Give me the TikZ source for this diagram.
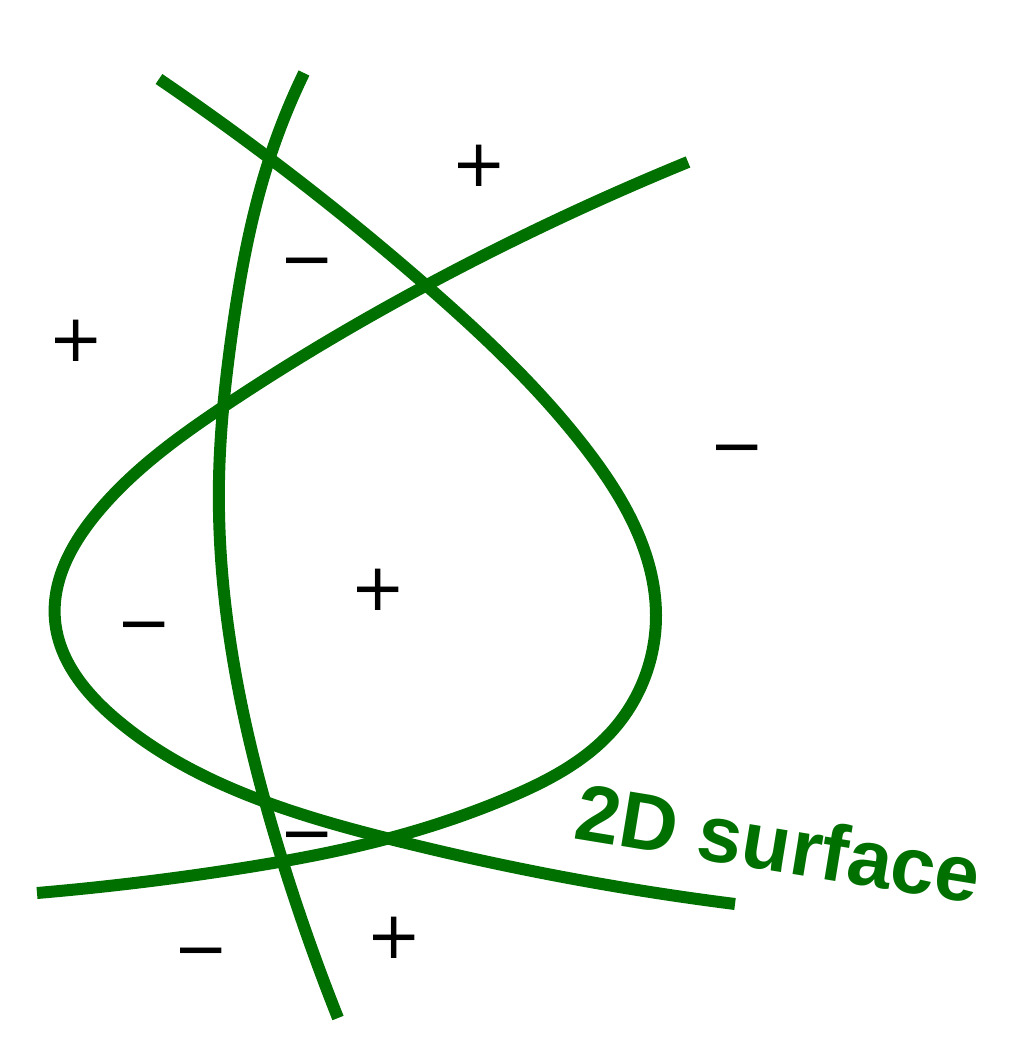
\documentclass[tikz,border=0pt]{standalone}
\usepackage{fontspec}
\setmainfont{Liberation Sans}
\newfontfamily\signfont{DejaVu Sans}
\usetikzlibrary{hobby}
\definecolor{surfgreen}{RGB}{0,112,0}
\begin{document}
\begin{tikzpicture}[x={(1pt,0pt)},y={(0pt,-1pt)},
  curve/.style={draw=surfgreen,line width=12pt,line cap=butt,use Hobby shortcut},
  sign/.style={anchor=base,inner sep=0pt,font=\signfont\fontsize{66}{70}\selectfont,text=black},
  label/.style={anchor=base west,inner sep=0pt,text=surfgreen,font=\bfseries\fontsize{80}{96}\selectfont,rotate=-9.3}]
\useasboundingbox (0,0) rectangle (1025,1039);
% curve A
\draw[curve] (159,79) .. (428,287) .. (587,450) .. (656,615) .. (613,730) .. (510,797) .. (390,838) .. (230,870) .. (37,893);
% curve B
\draw[curve] (688,162) .. (427,285) .. (223,407) .. (97,513) .. (55,620) .. (117,720) .. (263,801) .. (390,839) .. (735,904);
% vertical curve
\draw[curve] (304,73) .. (270,157) .. (231,340) .. (219,480) .. (238,687) .. (280,853) .. (338,1018);
% signs
\node[sign] (p1) at (479,163+23) {+};
\node[sign] (m1) at (307,258+23) {−};
\node[sign] (p2) at (76,338+23) {+};
\node[sign] (m2) at (737,445+23) {−};
\node[sign] (p3) at (378,587+23) {+};
\node[sign] (m3) at (144,622+23) {−};
\node[sign] (m4) at (307,832+23) {−};
\node[sign] (p4) at (394,935+23) {+};
\node[sign] (m5) at (201,948+23) {−};
\node[label] (lbl) at (572,838) {2D surface};
\end{tikzpicture}
\end{document}
